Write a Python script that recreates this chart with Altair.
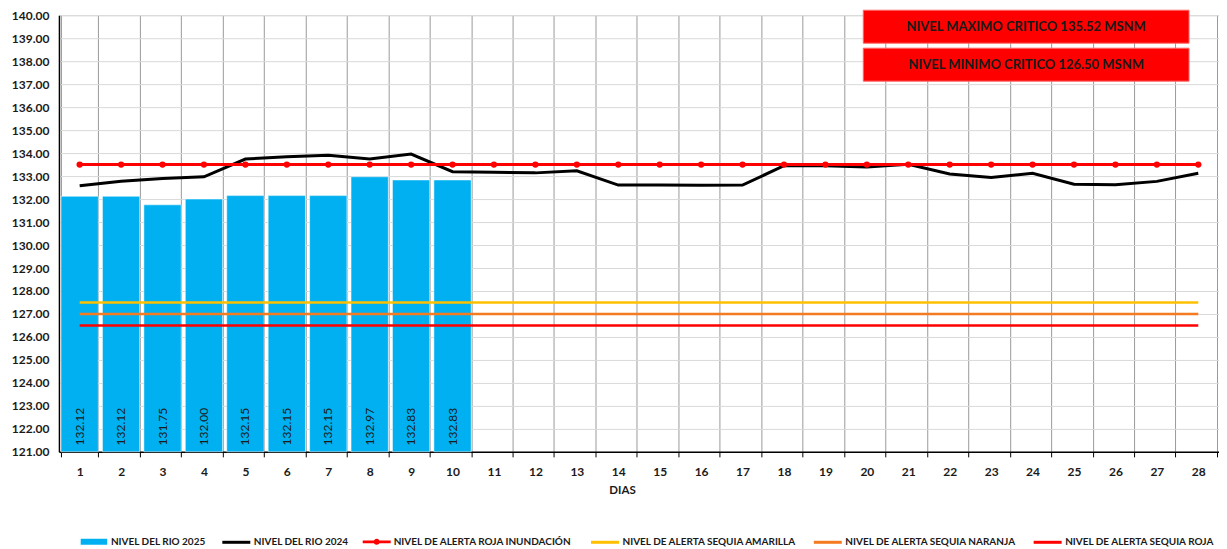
import altair as alt
import pandas as pd

# ---------------- data ----------------
days = list(range(1, 29))
rio_2025 = [132.12, 132.12, 131.75, 132.00, 132.15, 132.15, 132.15, 132.97, 132.83, 132.83]
rio_2024 = [132.58, 132.78, 132.90, 132.97, 133.74, 133.84, 133.91, 133.74, 133.96, 133.19,
            133.17, 133.14, 133.23, 132.61, 132.61, 132.60, 132.61, 133.45, 133.45, 133.40,
            133.51, 133.09, 132.94, 133.12, 132.65, 132.62, 132.77, 133.12]
alerta_inundacion = 133.50
sequia_labels = ["NIVEL DE ALERTA SEQUIA AMARILLA", "NIVEL DE ALERTA SEQUIA NARANJA",
                 "NIVEL DE ALERTA SEQUIA ROJA"]
sequia_values = [127.50, 127.00, 126.50]
y_ticks = list(range(121, 141))
box_texts = ["NIVEL MAXIMO CRITICO 135.52 MSNM", "NIVEL MINIMO CRITICO 126.50 MSNM"]

S25 = "NIVEL DEL RIO 2025"
S24 = "NIVEL DEL RIO 2024"
SIN = "NIVEL DE ALERTA ROJA INUNDACIÓN"

# ---------------- styles ----------------
FONT = "Lato"
BLUE = "#00b0f0"
RED = "#ff0000"
sequia_colors = ["#ffc000", "#f47b20", "#ff0000"]
sequia_leg_x = [531, 754, 974]
W, H = 1161, 437
LEG_Y = 512

df25 = pd.DataFrame({"dia": days[:len(rio_2025)], "nivel": rio_2025, "serie": S25,
                     "label": [f"{v:.2f}" for v in rio_2025]})
df24 = pd.DataFrame({"dia": days, "nivel": rio_2024, "serie": S24})
dfin = pd.DataFrame({"dia": days, "nivel": [alerta_inundacion] * len(days), "serie": SIN})

x_scale = alt.Scale(domain=days, paddingInner=0.1, paddingOuter=0.05)
x_axis = alt.Axis(title="DIAS", labelAngle=0, grid=True, tickBand="extent",
                  gridColor="#9a9a9a", gridWidth=1, domainColor="#000000", domainWidth=1.5,
                  tickColor="#000000", tickSize=5, labelFont=FONT, labelFontSize=12,
                  labelFontWeight="bold", labelColor="#1a1a1a", labelPadding=10,
                  labelOverlap=False, titleX=W / 2 - 17,
                  titleFont=FONT, titleFontSize=11.5, titleFontWeight="bold",
                  titleColor="#1a1a1a", titlePadding=7)
x_enc = alt.X("dia:O", scale=x_scale, axis=x_axis)
y_scale = alt.Scale(domain=[y_ticks[0], y_ticks[-1]], zero=False, nice=False)
y_axis = alt.Axis(title=None, values=y_ticks, tickCount=len(y_ticks), format=".2f", grid=True,
                  gridColor="#d9d9d9", gridWidth=1, ticks=False, domainColor="#000000",
                  domainWidth=1.5, labelFont=FONT, labelFontSize=12, labelFontWeight="bold",
                  labelColor="#1a1a1a", labelPadding=10, labelOverlap=False,
                  labelBound=False)
y_enc = alt.Y("nivel:Q", scale=y_scale, axis=y_axis)

def leg(x, **kw):
    return alt.Legend(title=None, orient="none", legendX=x, legendY=LEG_Y,
                      direction="horizontal", symbolSize=784, labelOffset=2,
                      labelFont=FONT, labelFontSize=10, labelLimit=400,
                      labelFontWeight="bold", labelColor="#1a1a1a", **kw)

bars = alt.Chart(df25).mark_bar(stroke="white", strokeWidth=0.5).encode(
    x=x_enc, y=y_enc, y2=alt.datum(y_ticks[0]),
    fill=alt.Fill("serie:N", scale=alt.Scale(domain=[S25], range=[BLUE]),
                  legend=leg(20, symbolType="M-1,-0.27H1V0.27H-1Z")),
)

bar_text = alt.Chart(df25).mark_text(angle=270, font=FONT, fontSize=12, color="#1a1a1a",
                                     align="center", baseline="middle").encode(
    x=x_enc,
    y=alt.datum(y_ticks[0] + 1.1, scale=y_scale, axis=y_axis),
    text="label:N",
)

line24 = alt.Chart(df24).mark_line(strokeWidth=3).encode(
    x=x_enc, y=y_enc,
    stroke=alt.Stroke("serie:N", scale=alt.Scale(domain=[S24], range=["#000000"]),
                      legend=leg(162, symbolType="stroke", symbolStrokeWidth=3,
                                 symbolStrokeColor="#000000")),
)

line_in = alt.Chart(dfin).mark_line(strokeWidth=3, color=RED).encode(x=x_enc, y=y_enc)
pts_in = alt.Chart(dfin).mark_point(filled=True, color=RED, size=40, opacity=1).encode(
    x=x_enc, y=y_enc,
    opacity=alt.Opacity("serie:N", scale=alt.Scale(domain=[SIN], range=[1]),
                        legend=leg(303, symbolType="M-1,-0.1H1V0.1H-1Z M-0.22,0A0.22,0.22,0,1,1,0.22,0A0.22,0.22,0,1,1,-0.22,0Z")),
)

seq_layers = []
for lab, val, col, lx in zip(sequia_labels, sequia_values, sequia_colors, sequia_leg_x):
    d = pd.DataFrame({"dia": days, "nivel": [val] * len(days), "serie": lab})
    seq_layers.append(alt.Chart(d).mark_line(strokeWidth=2.5).encode(
        x=x_enc, y=y_enc,
        color=alt.Color("serie:N", scale=alt.Scale(domain=[lab], range=[col]),
                        legend=leg(lx, symbolType="stroke", symbolStrokeWidth=3)),
    ))

boxes = []
for i, t in enumerate(box_texts):
    top = -5 + i * 38
    src = alt.Data(values=[{"t": t}])
    boxes.append(alt.Chart(src).mark_rect(fill=RED, stroke="#ff6666", strokeWidth=1).encode(
        x=alt.value(805), x2=alt.value(1131), y=alt.value(top), y2=alt.value(top + 33)))
    boxes.append(alt.Chart(src).mark_text(font=FONT, fontSize=13, fontWeight="bold",
                                          color="#1a1a1a", align="center",
                                          baseline="middle").encode(
        x=alt.value(968), y=alt.value(top + 16.5), text="t:N"))

chart = alt.layer(bars, bar_text, line24, line_in, pts_in, *seq_layers, *boxes).resolve_scale(
    color="independent"
).properties(
    width=W, height=H,
    autosize=alt.AutoSizeParams(type="none"),
    padding={"left": 51, "top": 7, "right": 0, "bottom": 110},
).configure_view(stroke=None).configure(background="white")

chart.save("out.html", embed_options={"renderer": "svg", "actions": False})
